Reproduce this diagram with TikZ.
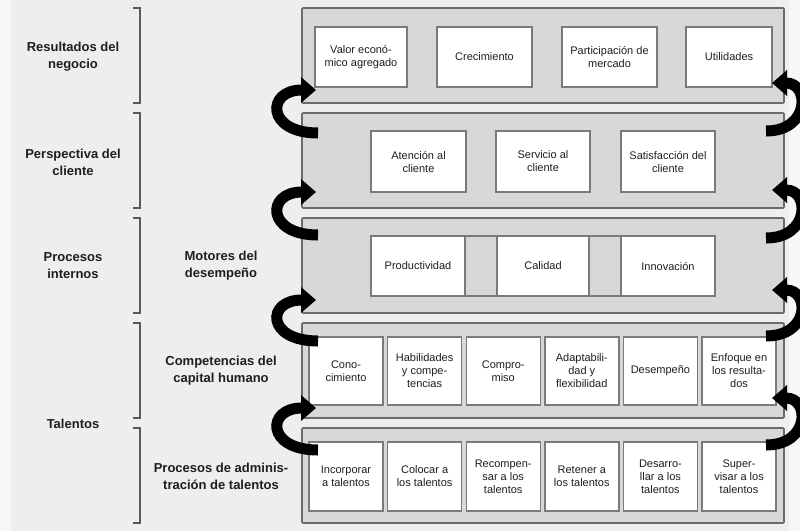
\documentclass[tikz,border=0pt]{standalone}
\usepackage{fontspec}
\setmainfont{Liberation Sans}
\usetikzlibrary{arrows.meta}
\definecolor{bgc}{HTML}{EEEEEE}
\definecolor{bandfill}{HTML}{D8D8D8}
\definecolor{bandline}{HTML}{6B6B6B}
\definecolor{boxline}{HTML}{7A7A7A}
\definecolor{txt}{HTML}{1E1E1E}
\tikzset{
  band/.style={draw=bandline, line width=1.6pt, fill=bandfill, rounded corners=1pt, inner sep=0pt, minimum width=482pt},
  cell/.style={draw=boxline, line width=1.4pt, fill=white, inner sep=1pt, align=center, text=txt, font=\fontsize{11}{13}\selectfont},
  filler/.style={draw=boxline, line width=1.4pt, fill=bandfill, inner sep=0pt},
  lbl/.style={align=center, text=txt, font=\bfseries\fontsize{13}{17}\selectfont, inner sep=0pt},
  brk/.style={draw=black!65, line width=1.3pt},
  bigarrow/.style={line width=11pt, draw=black, -{Triangle[width=25pt,length=15pt]}},
}
\begin{document}
\begin{tikzpicture}[x=1pt,y=-1pt]
\useasboundingbox (0,0) rectangle (800,531);
\clip (0,0) rectangle (800,531);
\fill[bgc] (0,0) rectangle (800,531);
\fill[white!50!bgc] (0,0) rectangle (11,531);
\fill[white!50!bgc] (789,0) rectangle (800,531);

% left labels
\node[lbl] (l1) at (73,57) {Resultados del\\negocio};
\node[lbl] (l2) at (73,162) {Perspectiva del\\cliente};
\node[lbl] (l3) at (73,266) {Procesos\\internos};
\node[lbl] (l4) at (73,424) {Talentos};
\node[lbl] (m3) at (221,266) {Motores del\\desempeño};
\node[lbl] (m4) at (221,371) {Competencias del\\capital humano};
\node[lbl] (m5) at (221,476) {Procesos de adminis-\\tración de talentos};

% brackets
\draw[brk] (133,8) -- (140,8) -- (140,103) -- (133,103);
\draw[brk] (133,113) -- (140,113) -- (140,208) -- (133,208);
\draw[brk] (133,218) -- (140,218) -- (140,313) -- (133,313);
\draw[brk] (133,323) -- (140,323) -- (140,418) -- (133,418);
\draw[brk] (133,428) -- (140,428) -- (140,523) -- (133,523);

% bands
\node[band, minimum height=95pt] (b1) at (543,55.5) {};
\node[band, minimum height=95pt] (b2) at (543,160.5) {};
\node[band, minimum height=95pt] (b3) at (543,265.5) {};
\node[band, minimum height=95pt] (b4) at (543,370.5) {};
\node[band, minimum height=95pt] (b5) at (543,475.5) {};

% band 1
\node[cell, minimum width=92pt, minimum height=60pt] (c11) at (361,57) {Valor econó-\\mico agregado};
\node[cell, minimum width=95pt, minimum height=60pt] (c12) at (484.5,57) {Crecimiento};
\node[cell, minimum width=95pt, minimum height=60pt] (c13) at (609.5,57) {Participación de\\mercado};
\node[cell, minimum width=86pt, minimum height=60pt] (c14) at (729,57) {Utilidades};

% band 2
\node[cell, minimum width=95pt, minimum height=61pt] (c21) at (418.5,161.5) {Atención al\\cliente};
\node[cell, minimum width=94pt, minimum height=61pt] (c22) at (543,161.5) {Servicio al\\cliente};
\node[cell, minimum width=94pt, minimum height=61pt] (c23) at (668,161.5) {Satisfacción del\\cliente};

% band 3
\node[filler, minimum width=32pt, minimum height=60pt] (f1) at (481,266) {};
\node[filler, minimum width=32pt, minimum height=60pt] (f2) at (605,266) {};
\node[cell, minimum width=94pt, minimum height=60pt] (c31) at (418,266) {Productividad};
\node[cell, minimum width=92pt, minimum height=60pt] (c32) at (543,266) {Calidad};
\node[cell, minimum width=94pt, minimum height=60pt] (c33) at (668,266) {Innovación};

% band 4
\foreach \t [count=\i from 0] in {{Cono-\\cimiento},{Habilidades\\y compe-\\tencias},{Compro-\\miso},{Adaptabili-\\dad y\\flexibilidad},{Desempeño},{Enfoque en\\los resulta-\\dos}}{
  \node[cell, minimum width=74pt, minimum height=68pt] (c4\i) at (346+78.6*\i,371) {\t};
}
% band 5
\foreach \t [count=\i from 0] in {{Incorporar\\a talentos},{Colocar a\\los talentos},{Recompen-\\sar a los\\talentos},{Retener a\\los talentos},{Desarro-\\llar a los\\talentos},{Super-\\visar a los\\talentos}}{
  \node[cell, minimum width=74pt, minimum height=69pt] (c5\i) at (346+78.6*\i,476.5) {\t};
}

% left arrows (from lower band up to upper band)
\coordinate (lt1) at (318,133); \coordinate (lh1) at (316,90);
\coordinate (lt2) at (318,235); \coordinate (lh2) at (316,192);
\coordinate (lt3) at (318,341); \coordinate (lh3) at (316,300);
\coordinate (lt4) at (318,450); \coordinate (lh4) at (316,408);
\foreach \i/\a/\b in {1/133/90,2/235/192,3/341/300,4/450/408}{
  \draw[bigarrow] (lt\i) .. controls (266,\a) and (266,\b) .. (lh\i);
}
% right arrows
\coordinate (rt1) at (766,131); \coordinate (rh1) at (772,83);
\coordinate (rt2) at (766,238); \coordinate (rh2) at (772,190);
\coordinate (rt3) at (766,336); \coordinate (rh3) at (772,290);
\coordinate (rt4) at (766,445); \coordinate (rh4) at (772,398);
\foreach \i/\a/\b in {1/131/83,2/238/190,3/336/290,4/445/398}{
  \draw[bigarrow] (rt\i) .. controls (810,\a) and (810,\b) .. (rh\i);
}
\end{tikzpicture}
\end{document}
